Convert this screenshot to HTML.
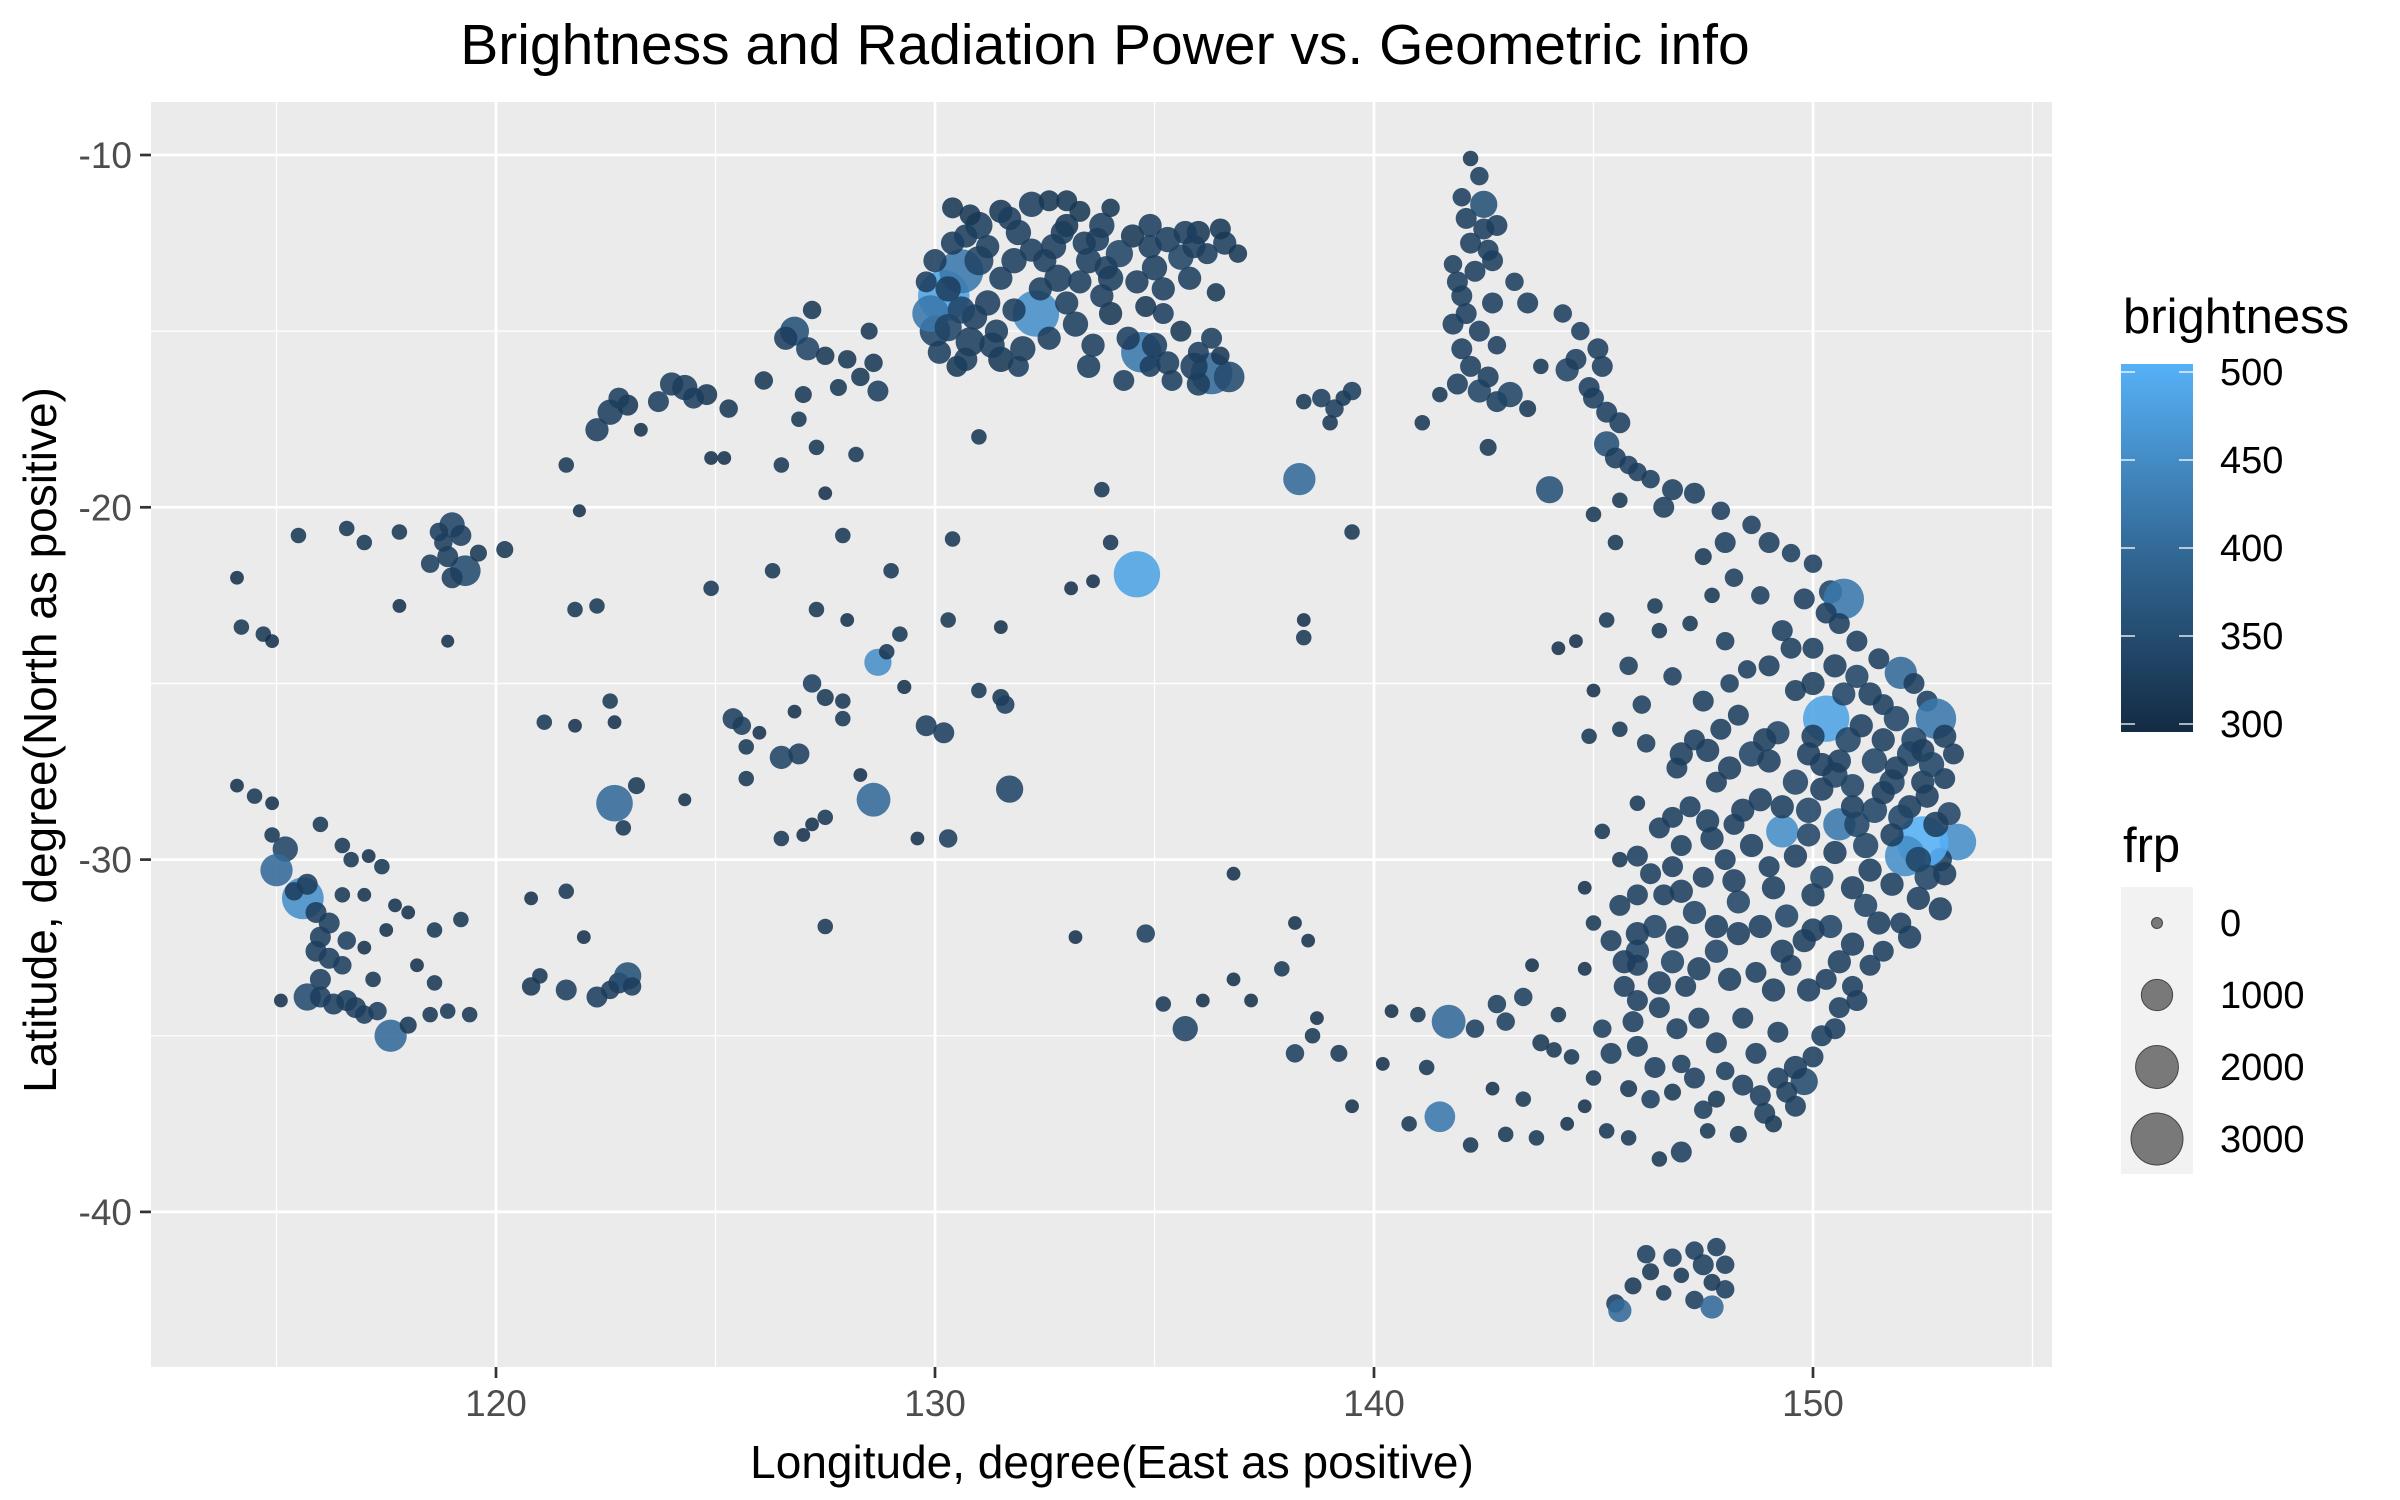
<!DOCTYPE html>
<html><head><meta charset="utf-8"><style>
html,body{margin:0;padding:0;background:#fff;}
svg{display:block;font-family:"Liberation Sans",Arial,sans-serif;}
</style></head><body>
<svg id="chart" width="2400" height="1500" viewBox="0 0 2400 1500" xmlns="http://www.w3.org/2000/svg">
<rect width="2400" height="1500" fill="#fff"/>
<text x="1105" y="64" font-size="57" text-anchor="middle" fill="#000">Brightness and Radiation Power vs. Geometric info</text>
<rect x="151" y="102" width="1901" height="1265" fill="#EBEBEB"/>
<g id="grid"></g>
<g id="points"></g>
<g id="axes"></g>
<text x="1112" y="1478" font-size="46" text-anchor="middle" fill="#000">Longitude, degree(East as positive)</text>
<text transform="translate(56,740) rotate(-90)" font-size="46" text-anchor="middle" fill="#000">Latitude, degree(North as positive)</text>
<defs><linearGradient id="cbar" x1="0" y1="1" x2="0" y2="0">
<stop offset="0" stop-color="#132B43"/><stop offset="0.5" stop-color="#336A98"/><stop offset="1" stop-color="#56B1F7"/></linearGradient></defs>
<g id="legend">
<text x="2123" y="333" font-size="49" fill="#000">brightness</text>
<rect x="2121" y="364" width="72" height="368" fill="url(#cbar)"/>
<text x="2123" y="862" font-size="49" fill="#000">frp</text>
<rect x="2121" y="887" width="72" height="287" fill="#F2F2F2"/>
</g>
</svg>
<script>
const xTicks=[120,130,140,150];
const xMinor=[115,125,135,145,155];
const yTicks=[-10,-20,-30,-40];
const yMinor=[-15,-25,-35];
const brightTicks=[300,350,400,450,500];
const frpTicks=[0,1000,2000,3000];
// rows: [lon, lat, brightness, frp]
const topEnd=[[130.2,-14.0,480,2500],[130.6,-13.3,420,1800],[131.0,-12.0,330,600],[131.5,-11.6,320,400],[132.2,-11.4,330,500],[133.0,-11.3,320,300],[133.8,-12.0,330,500],[134.5,-12.3,320,400],[135.3,-12.4,330,500],[136.0,-12.2,320,400],[136.6,-12.5,330,400],[130.0,-15.0,340,800],[130.8,-15.3,330,700],[131.5,-15.8,320,500],[132.3,-14.5,450,2000],[132.8,-13.5,330,600],[133.5,-13.0,330,500],[134.2,-12.8,340,600],[135.0,-13.2,330,500],[135.6,-12.9,340,500],[134.7,-15.6,420,1500],[135.0,-15.4,330,500],[135.6,-15.0,320,300],[136.3,-16.2,400,1600],[136.7,-16.3,350,800],[135.9,-16.0,330,600],[134.0,-14.5,320,400],[133.2,-14.8,330,500],[131.8,-13.0,330,500],[131.2,-14.2,330,500],[130.4,-12.5,330,400],[129.9,-14.5,420,1200],[133.5,-16.0,330,400],[134.3,-16.4,330,300],[136.4,-13.9,320,200],[135.2,-14.5,330,300],[132.0,-15.5,330,500],[130.5,-16.0,320,300],[131.0,-18.0,320,100],[134.8,-14.3,320,300],[133.0,-12.0,320,400],[136.9,-12.8,320,200],[131.9,-12.2,330,500],[132.7,-12.6,330,500],[134.0,-13.5,330,500],[133.6,-15.4,330,400],[130.4,-11.5,320,300],[131.0,-13.0,340,700]];
const topEndDense=[[130.0,-13.0,330,400],[130.3,-13.8,330,500],[130.9,-14.6,330,500],[131.4,-15.0,330,400],[131.8,-14.4,330,400],[132.5,-13.0,330,400],[132.9,-12.2,330,400],[133.4,-12.5,330,400],[133.9,-13.2,330,400],[134.6,-13.6,330,400],[135.2,-13.8,330,400],[135.8,-13.5,330,400],[136.2,-12.8,330,300],[136.5,-12.1,320,300],[134.9,-12.6,330,400],[133.3,-11.6,320,300],[132.6,-11.3,320,300],[131.7,-11.8,330,400],[131.2,-12.6,330,400],[130.7,-12.3,330,400],[130.1,-15.6,330,400],[130.7,-15.8,330,400],[131.9,-16.0,330,300],[132.6,-15.2,330,400],[133.0,-14.2,330,400],[133.8,-14.0,330,400],[134.4,-15.2,330,400],[135.3,-15.9,330,400],[136.0,-15.6,330,300],[136.5,-15.7,320,200],[132.4,-13.8,330,400],[131.5,-13.5,330,400],[130.8,-11.7,320,300],[134.0,-11.5,320,200],[135.7,-12.2,330,400],[129.8,-13.6,330,300],[136.0,-16.5,330,400],[135.4,-16.4,330,300],[134.9,-16.0,330,300],[130.3,-14.9,340,600],[130.6,-14.4,340,600],[131.3,-15.4,330,500],[132.2,-12.7,330,400],[133.7,-12.4,330,400],[134.9,-12.0,330,400],[135.9,-12.6,330,400],[136.3,-15.2,330,300],[133.3,-13.6,330,400]];
const kimberley=[[122.6,-17.3,330,500],[122.3,-17.8,330,400],[123.0,-17.1,320,300],[123.7,-17.0,330,300],[124.3,-16.6,330,500],[124.8,-16.8,320,300],[125.3,-17.2,320,200],[126.1,-16.4,320,200],[126.8,-15.0,360,700],[127.2,-14.4,320,200],[127.1,-15.5,340,400],[128.0,-15.8,320,200],[128.3,-16.3,320,200],[128.6,-15.9,320,200],[128.7,-16.7,330,300],[127.0,-16.8,320,150],[126.5,-18.8,320,100],[127.3,-18.3,320,100],[128.2,-18.5,320,100],[126.9,-17.5,320,100],[123.3,-17.8,310,50],[124.9,-18.6,310,50],[121.6,-18.8,320,100],[128.5,-15.0,320,150],[127.8,-16.6,320,150],[124.0,-16.5,330,400],[124.5,-16.9,330,300],[122.8,-16.9,330,300],[126.6,-15.2,330,400],[127.5,-15.7,320,200]];
const pilbara=[[115.5,-20.8,320,100],[116.6,-20.6,320,100],[117.0,-21.0,320,100],[117.8,-20.7,320,100],[118.8,-21.0,330,200],[119.0,-20.5,340,500],[119.3,-21.8,350,800],[119.0,-22.0,330,300],[118.5,-21.6,330,200],[119.6,-21.3,320,150],[120.2,-21.2,320,150],[114.1,-22.0,310,50],[117.8,-22.8,310,50],[118.9,-23.8,310,30],[114.2,-23.4,320,100],[114.7,-23.6,320,100],[114.9,-23.8,310,50],[118.9,-21.4,330,300],[119.2,-20.8,330,300],[118.7,-20.7,330,200]];
const southWest=[[114.1,-27.9,310,50],[114.5,-28.2,320,100],[114.9,-28.4,310,50],[114.9,-29.3,320,100],[115.2,-29.7,340,500],[115.0,-30.3,400,900],[115.6,-31.1,450,1600],[115.9,-31.5,330,300],[116.0,-32.2,330,300],[116.2,-32.8,330,300],[116.0,-33.4,330,300],[115.7,-33.9,350,600],[116.3,-34.1,330,300],[116.8,-34.2,330,300],[117.3,-34.3,330,200],[117.6,-35.0,400,900],[118.0,-34.7,320,150],[118.5,-34.4,320,100],[118.9,-34.3,320,100],[119.4,-34.4,320,100],[117.0,-32.5,310,50],[117.5,-32.0,310,50],[118.0,-31.5,310,50],[118.6,-32.0,320,100],[119.2,-31.7,320,100],[116.7,-30.0,320,100],[117.4,-30.2,320,100],[118.2,-33.0,310,50],[117.2,-33.4,320,100],[116.5,-33.0,330,200],[115.1,-34.0,310,50],[116.0,-29.0,320,100],[116.5,-29.6,320,100],[117.1,-29.9,310,50],[117.7,-31.3,310,50],[118.6,-33.5,320,100],[116.5,-31.0,320,100],[117.0,-31.0,310,50],[116.6,-32.3,330,200],[116.2,-31.8,330,300],[115.9,-32.6,330,300],[116.0,-33.9,330,300],[116.6,-34.0,330,300],[117.0,-34.4,330,200],[115.7,-30.7,330,300],[115.4,-30.9,330,200]];
const southCoast=[[120.8,-31.1,310,50],[121.6,-30.9,320,100],[120.8,-33.6,320,200],[121.6,-33.7,330,300],[122.3,-33.9,330,300],[122.8,-33.5,330,300],[123.0,-33.3,360,600],[122.0,-32.2,310,50],[121.0,-33.3,320,100],[123.1,-33.6,330,200],[122.6,-33.7,330,200]];
const interior=[[121.8,-22.9,320,100],[122.3,-22.8,320,100],[124.9,-22.3,320,100],[126.3,-21.8,320,100],[125.2,-18.6,310,50],[121.9,-20.1,310,30],[122.6,-25.5,320,100],[122.7,-26.1,310,50],[121.1,-26.1,320,100],[121.8,-26.2,310,50],[122.7,-28.4,400,1200],[123.2,-27.9,320,150],[122.9,-29.1,320,100],[124.3,-28.3,310,30],[125.4,-26.0,330,300],[125.6,-26.2,330,200],[125.7,-26.8,320,100],[126.0,-26.4,310,50],[126.5,-27.1,340,400],[126.9,-27.0,330,300],[125.7,-27.7,320,100],[126.5,-29.4,320,100],[127.0,-29.3,310,50],[127.2,-29.0,310,50],[127.5,-28.8,320,100],[127.2,-25.0,330,200],[127.5,-25.4,320,150],[127.9,-25.5,320,100],[126.8,-25.8,310,50],[127.9,-26.0,320,100],[128.6,-28.3,400,1000],[128.3,-27.6,310,50],[128.7,-24.4,450,600],[128.9,-24.1,320,100],[129.3,-25.1,310,60],[129.8,-26.2,330,300],[130.2,-26.4,330,300],[130.3,-29.4,330,200],[129.6,-29.4,310,50],[129.2,-23.6,320,100],[130.3,-23.2,320,100],[129.0,-21.8,320,100],[127.9,-20.8,320,100],[127.3,-22.9,320,100],[128.0,-23.2,310,50],[131.0,-25.2,320,100],[131.5,-25.4,320,150],[131.7,-28.0,340,600],[131.6,-25.6,330,200],[131.5,-23.4,310,50],[130.4,-20.9,320,100],[127.5,-19.6,310,50],[133.1,-22.3,310,50],[133.6,-22.1,310,50],[134.6,-21.9,480,2000],[134.0,-21.0,320,100],[133.8,-19.5,320,100],[133.2,-32.2,310,50],[134.8,-32.1,330,200],[127.5,-31.9,320,100],[136.8,-30.4,310,50],[138.4,-23.2,310,50],[138.4,-23.7,320,100],[139.5,-20.7,320,100],[138.3,-19.2,400,900]];
const gulf=[[138.4,-17.0,320,100],[138.8,-16.9,330,200],[139.1,-17.2,330,200],[139.3,-16.9,320,100],[139.0,-17.6,320,100],[139.5,-16.7,330,200],[141.1,-17.6,320,100],[141.5,-16.8,320,100]];
const capeYork=[[142.2,-10.1,320,100],[142.4,-10.6,330,200],[142.0,-11.2,330,200],[142.5,-11.4,360,600],[142.8,-12.0,330,300],[142.2,-12.5,330,300],[141.8,-13.1,330,200],[142.3,-13.3,330,300],[142.7,-13.0,330,300],[143.2,-13.6,330,200],[143.5,-14.2,330,300],[142.0,-14.0,330,300],[141.8,-14.8,330,300],[142.4,-15.0,330,300],[142.8,-15.4,330,200],[142.2,-16.0,330,300],[141.9,-16.5,330,300],[142.4,-16.7,340,400],[142.8,-17.0,330,300],[143.1,-16.8,340,500],[143.5,-17.2,320,150],[142.6,-18.3,320,150],[143.8,-16.0,320,100],[144.3,-14.5,330,200],[144.7,-15.0,330,200],[145.1,-15.5,330,300],[145.2,-16.0,330,300],[144.4,-16.1,340,400],[144.9,-16.6,330,300],[145.3,-17.3,330,300],[145.6,-17.6,330,300],[145.3,-18.2,360,500],[145.8,-18.8,330,200],[146.3,-19.2,330,200],[146.8,-19.5,330,300],[147.3,-19.6,330,300],[147.9,-20.1,330,200],[145.0,-20.2,320,100],[144.0,-19.5,360,600],[145.6,-19.8,320,100],[142.1,-14.5,330,300],[142.6,-12.7,330,300],[142.1,-11.8,330,300],[142.5,-12.1,330,300],[142.0,-15.5,330,300],[142.6,-16.3,330,300],[141.9,-13.6,330,300],[142.7,-14.2,330,300],[145.0,-16.9,330,300],[145.5,-18.6,330,300],[146.0,-19.0,330,200],[144.6,-15.8,330,300]];
const eastCoast=[[148.6,-20.5,330,200],[149.0,-21.0,330,300],[149.5,-21.3,330,200],[150.0,-21.6,330,200],[150.4,-22.4,340,400],[150.7,-22.6,420,1500],[147.5,-21.4,320,150],[148.2,-22.0,330,200],[147.7,-22.5,320,100],[148.8,-22.5,330,200],[149.3,-23.5,330,300],[149.0,-24.5,330,300],[150.0,-24.0,330,300],[150.6,-23.3,330,300],[151.0,-23.8,330,300],[151.5,-24.3,330,300],[152.0,-24.7,400,900],[152.3,-25.0,330,300],[152.6,-25.5,330,300],[152.8,-26.0,420,1500],[153.0,-26.5,330,400],[153.2,-27.0,330,300],[153.0,-27.7,330,300],[152.6,-28.2,330,400],[153.1,-28.7,340,400],[153.3,-29.5,450,1200],[152.9,-30.0,330,400],[152.5,-29.5,500,2500],[152.1,-29.9,450,1500],[152.6,-30.5,340,500],[152.4,-31.1,330,400],[152.0,-31.8,330,300],[151.6,-32.6,330,300],[151.3,-33.0,330,300],[150.9,-33.6,330,300],[150.6,-34.2,330,300],[150.2,-35.0,330,300],[150.0,-35.6,330,300],[149.8,-36.3,350,600],[149.6,-37.0,330,300],[149.1,-37.5,320,150],[148.3,-37.8,320,150],[147.6,-37.7,320,100],[147.0,-38.3,330,300],[146.5,-38.5,320,100],[145.8,-37.9,320,100],[145.3,-37.7,320,100],[144.4,-37.5,310,50],[143.7,-37.9,320,100],[143.0,-37.8,320,100],[142.2,-38.1,320,100],[141.5,-37.3,420,800],[152.2,-28.5,330,400],[151.6,-25.6,330,300],[152.9,-31.4,330,400],[152.3,-26.6,340,500]];
const inlandEast=[[146.5,-23.5,320,100],[145.3,-23.2,320,100],[144.6,-23.8,310,50],[145.8,-24.5,330,200],[146.8,-24.8,330,200],[147.5,-25.5,330,300],[148.3,-25.9,330,300],[149.2,-26.4,340,400],[150.3,-26.0,480,2000],[150.8,-26.6,340,500],[151.4,-27.2,340,500],[150.5,-27.6,340,500],[149.6,-27.8,340,500],[148.8,-28.3,330,400],[147.8,-27.8,330,300],[146.9,-27.4,330,300],[146.2,-26.7,330,200],[145.6,-26.3,320,100],[147.3,-26.6,330,300],[148.6,-27.0,340,500],[149.9,-28.6,340,500],[149.3,-29.2,450,900],[150.6,-29.0,420,900],[151.4,-28.6,340,500],[151.8,-27.8,340,500],[151.2,-29.6,340,500],[150.2,-30.5,340,400],[149.0,-30.2,330,300],[148.0,-30.0,330,300],[147.0,-29.6,330,300],[146.3,-30.4,330,300],[145.6,-31.3,330,300],[146.4,-31.9,340,400],[147.3,-31.5,340,400],[148.3,-31.2,340,400],[149.4,-31.6,340,400],[150.4,-31.9,340,400],[151.2,-31.3,340,400],[146.0,-32.6,340,400],[146.8,-32.9,340,400],[147.8,-32.6,340,400],[148.7,-33.2,330,300],[149.5,-33.0,330,300],[150.3,-33.4,330,300],[145.7,-33.6,330,300],[146.5,-34.2,330,300],[147.4,-34.5,330,300],[148.4,-34.5,330,300],[149.2,-34.9,330,300],[145.2,-34.8,330,200],[146.0,-35.3,330,300],[147.0,-35.8,330,200],[148.0,-36.0,330,200],[148.8,-36.7,330,300],[147.8,-36.8,320,150],[146.8,-36.6,320,150],[145.8,-36.5,320,150],[145.0,-36.2,320,100],[144.5,-35.6,320,100],[143.8,-35.2,320,150],[143.0,-34.6,330,200],[142.3,-34.8,330,200],[141.7,-34.6,400,1000],[141.0,-34.4,320,100],[140.4,-34.3,310,50],[143.4,-33.9,330,200],[142.8,-34.1,330,200],[144.2,-34.4,320,100],[144.8,-33.1,310,50],[145.4,-32.3,330,300],[146.6,-31.0,330,300],[147.5,-30.5,330,300],[144.8,-30.8,310,50],[145.2,-29.2,320,100],[146.0,-28.4,320,100],[144.1,-35.4,320,100],[142.7,-36.5,310,50],[143.4,-36.8,320,100],[144.8,-37.0,310,50],[141.2,-35.9,320,100],[140.2,-35.8,310,50],[139.2,-35.5,320,150],[138.6,-35.0,320,100],[138.2,-35.5,330,200],[138.7,-34.5,310,50],[137.9,-33.1,320,100],[138.2,-31.8,310,50],[138.5,-32.3,310,50],[137.2,-34.0,310,50],[136.8,-33.4,310,50],[135.2,-34.1,320,100],[135.7,-34.8,340,500],[136.1,-34.0,310,50],[140.8,-37.5,320,100],[139.5,-37.0,310,50],[145.0,-31.8,320,100],[145.6,-30.0,320,100],[144.2,-24.0,310,50],[145.0,-25.2,310,50],[144.9,-26.5,320,100],[146.4,-22.8,320,100],[147.2,-23.3,320,100],[148.0,-23.8,330,200],[148.5,-24.6,330,200],[149.6,-25.2,330,300],[150.7,-25.3,340,400],[151.0,-24.8,340,400],[151.9,-26.0,340,500],[152.2,-27.0,340,500],[152.0,-28.8,340,500],[147.2,-28.5,330,300],[148.2,-29.0,330,300],[147.1,-33.6,330,300],[149.9,-29.3,340,400],[150.9,-27.9,340,400],[148.1,-25.0,330,200],[146.0,-33.0,330,300],[143.6,-33.0,310,50]];
const eastDense=[[147.0,-27.0,330,400],[147.6,-26.9,330,400],[148.1,-27.4,330,400],[149.0,-27.2,330,400],[149.9,-27.0,330,400],[150.0,-26.5,330,400],[150.6,-27.2,330,400],[151.1,-26.2,330,400],[151.6,-26.6,330,400],[151.9,-27.4,330,400],[152.5,-27.8,330,400],[151.6,-28.1,330,400],[150.9,-28.5,330,400],[150.2,-28.0,330,400],[149.3,-28.5,330,400],[148.4,-28.6,330,400],[147.6,-28.9,330,400],[146.8,-28.8,330,300],[147.7,-29.4,330,400],[148.6,-29.6,330,400],[149.6,-29.9,330,400],[150.5,-29.8,330,400],[151.3,-30.3,330,400],[151.8,-30.7,330,400],[150.9,-30.8,330,400],[150.0,-31.0,330,400],[149.1,-30.8,330,400],[148.2,-30.6,330,400],[147.0,-30.9,330,400],[146.0,-31.0,330,300],[146.9,-32.2,330,400],[147.8,-31.9,330,400],[148.8,-31.9,330,400],[149.8,-32.3,330,400],[150.9,-32.4,330,400],[151.5,-31.8,330,400],[150.6,-32.9,330,400],[149.9,-33.7,330,400],[149.1,-33.7,330,400],[148.1,-33.4,330,400],[147.4,-33.1,330,400],[146.5,-33.5,330,400],[146.0,-34.0,330,300],[146.9,-34.8,330,300],[147.8,-35.2,330,300],[148.7,-35.5,330,300],[149.6,-35.9,330,400],[149.2,-36.2,330,300],[148.4,-36.4,330,300],[147.3,-36.2,330,300],[146.4,-35.9,330,300],[145.4,-35.5,330,300],[145.7,-32.9,330,400],[146.0,-32.1,330,400],[146.8,-30.2,330,300],[150.3,-23.0,330,300],[149.8,-22.6,330,300],[150.0,-25.0,330,400],[150.5,-24.5,330,400],[149.5,-24.0,330,300],[151.3,-25.3,330,400],[152.5,-26.9,330,400],[152.8,-29.0,330,500],[153.0,-30.4,330,400],[151.8,-29.3,330,400],[152.2,-32.2,330,400],[151.0,-34.0,330,300],[150.5,-34.8,330,300],[148.0,-21.0,330,300],[146.6,-20.0,330,300],[145.5,-21.0,320,100],[146.1,-25.6,330,200],[145.9,-34.6,330,300],[146.3,-36.8,330,200],[147.5,-37.1,330,200],[148.9,-37.2,330,300],[149.4,-36.6,330,300],[148.3,-32.1,330,400],[149.3,-32.6,330,400],[150.0,-32.0,330,400],[151.0,-29.0,340,500],[152.4,-30.0,340,500],[152.7,-27.3,340,500],[150.2,-27.3,330,400],[148.9,-26.6,330,400],[147.9,-26.3,330,300],[146.5,-29.1,330,300],[146.0,-29.9,330,300]];
const tasmania=[[145.5,-42.6,330,200],[145.6,-42.8,400,400],[145.9,-42.1,320,150],[146.3,-41.7,320,150],[146.8,-41.3,330,200],[147.3,-41.1,330,200],[147.8,-41.0,330,200],[148.0,-41.5,330,200],[147.7,-42.0,320,150],[147.3,-42.5,330,200],[147.7,-42.7,400,400],[146.6,-42.3,320,100],[147.0,-41.8,320,100],[147.5,-41.5,330,300],[146.2,-41.2,330,200],[148.0,-42.2,330,200]];
const regions={topEnd,topEndDense,kimberley,pilbara,southWest,southCoast,interior,gulf,capeYork,eastCoast,inlandEast,eastDense,tasmania};

const NS='http://www.w3.org/2000/svg';
const X0=496, XS=43.9, Y0=155, YS=35.23;
function xScale(lon){return X0+(lon-120)*XS;}
function yScale(lat){return Y0+(-10-lat)*YS;}
function rScale(f){return Math.sqrt(30+0.215*Math.max(0,f));}
function hex(c){return [parseInt(c.slice(1,3),16),parseInt(c.slice(3,5),16),parseInt(c.slice(5,7),16)];}
const cLo=hex('#132B43'),cMid=hex('#336A98'),cHi=hex('#56B1F7');
function colorScale(b){let t=Math.min(1,Math.max(0,(b-300)/200));let a,c,u;
 if(t<0.5){a=cLo;c=cMid;u=t/0.5;}else{a=cMid;c=cHi;u=(t-0.5)/0.5;}
 return 'rgb('+a.map((v,i)=>Math.round(v+(c[i]-v)*u)).join(',')+')';}
function mk(tag,attrs,parent){const e=document.createElementNS(NS,tag);for(const k in attrs)e.setAttribute(k,attrs[k]);parent.appendChild(e);return e;}

const grid=document.getElementById('grid');
xMinor.forEach(v=>{const x=xScale(v);if(x<151||x>2052)return;const l=mk('line',{x1:x,x2:x,y1:102,y2:1367,stroke:'#fff','stroke-width':1.3},grid);
 
 });
yMinor.forEach(v=>{const y=yScale(v);const l=mk('line',{x1:151,x2:2052,y1:y,y2:y,stroke:'#fff','stroke-width':1.3},grid);
 
 });
xTicks.forEach(v=>{const x=xScale(v);const l=mk('line',{x1:x,x2:x,y1:102,y2:1367,stroke:'#fff','stroke-width':2.7},grid);
 
 });
yTicks.forEach(v=>{const y=yScale(v);const l=mk('line',{x1:151,x2:2052,y1:y,y2:y,stroke:'#fff','stroke-width':2.7},grid);
 
 });

const axes=document.getElementById('axes');
xTicks.forEach(v=>{const x=xScale(v);
 const t=mk('line',{x1:x,x2:x,y1:1367,y2:1378,stroke:'#333','stroke-width':2.7},axes);
 
 
 const s=mk('text',{x:x,y:1416,'font-size':37,'text-anchor':'middle',fill:'#4D4D4D'},axes);s.textContent=v;
 
 });
yTicks.forEach(v=>{const y=yScale(v);
 const t=mk('line',{x1:140,x2:151,y1:y,y2:y,stroke:'#333','stroke-width':2.7},axes);
 
 
 const s=mk('text',{x:132,y:y+13,'font-size':37,'text-anchor':'end',fill:'#4D4D4D'},axes);s.textContent=v;
 
 });

const pts=document.getElementById('points');
Object.keys(regions).forEach(name=>{regions[name].forEach(p=>{
 const c=mk('circle',{cx:xScale(p[0]),cy:yScale(p[1]),r:rScale(p[3])*1.08,fill:colorScale(p[2]),'fill-opacity':0.88},pts);
 
 });});

const leg=document.getElementById('legend');
function bY(b){return 372+(500-b)*(88/50);}
brightTicks.forEach(b=>{const y=bY(b);
 const l1=mk('line',{x1:2121,x2:2135,y1:y,y2:y,stroke:'#fff','stroke-width':1.3},leg);
 
 
 const l2=mk('line',{x1:2179,x2:2193,y1:y,y2:y,stroke:'#fff','stroke-width':1.3},leg);
 
 
 const s=mk('text',{x:2220,y:y+13,'font-size':38,fill:'#000'},leg);s.textContent=b;
 
 });
frpTicks.forEach((f,i)=>{const y=923+i*72;
 const c=mk('circle',{cx:2157,cy:y,r:rScale(f),fill:'#000','fill-opacity':0.5,stroke:'#444','stroke-width':1},leg);
 
 
 const s=mk('text',{x:2220,y:y+13,'font-size':38,fill:'#000'},leg);s.textContent=f;
 
 });
</script>
</body></html>
